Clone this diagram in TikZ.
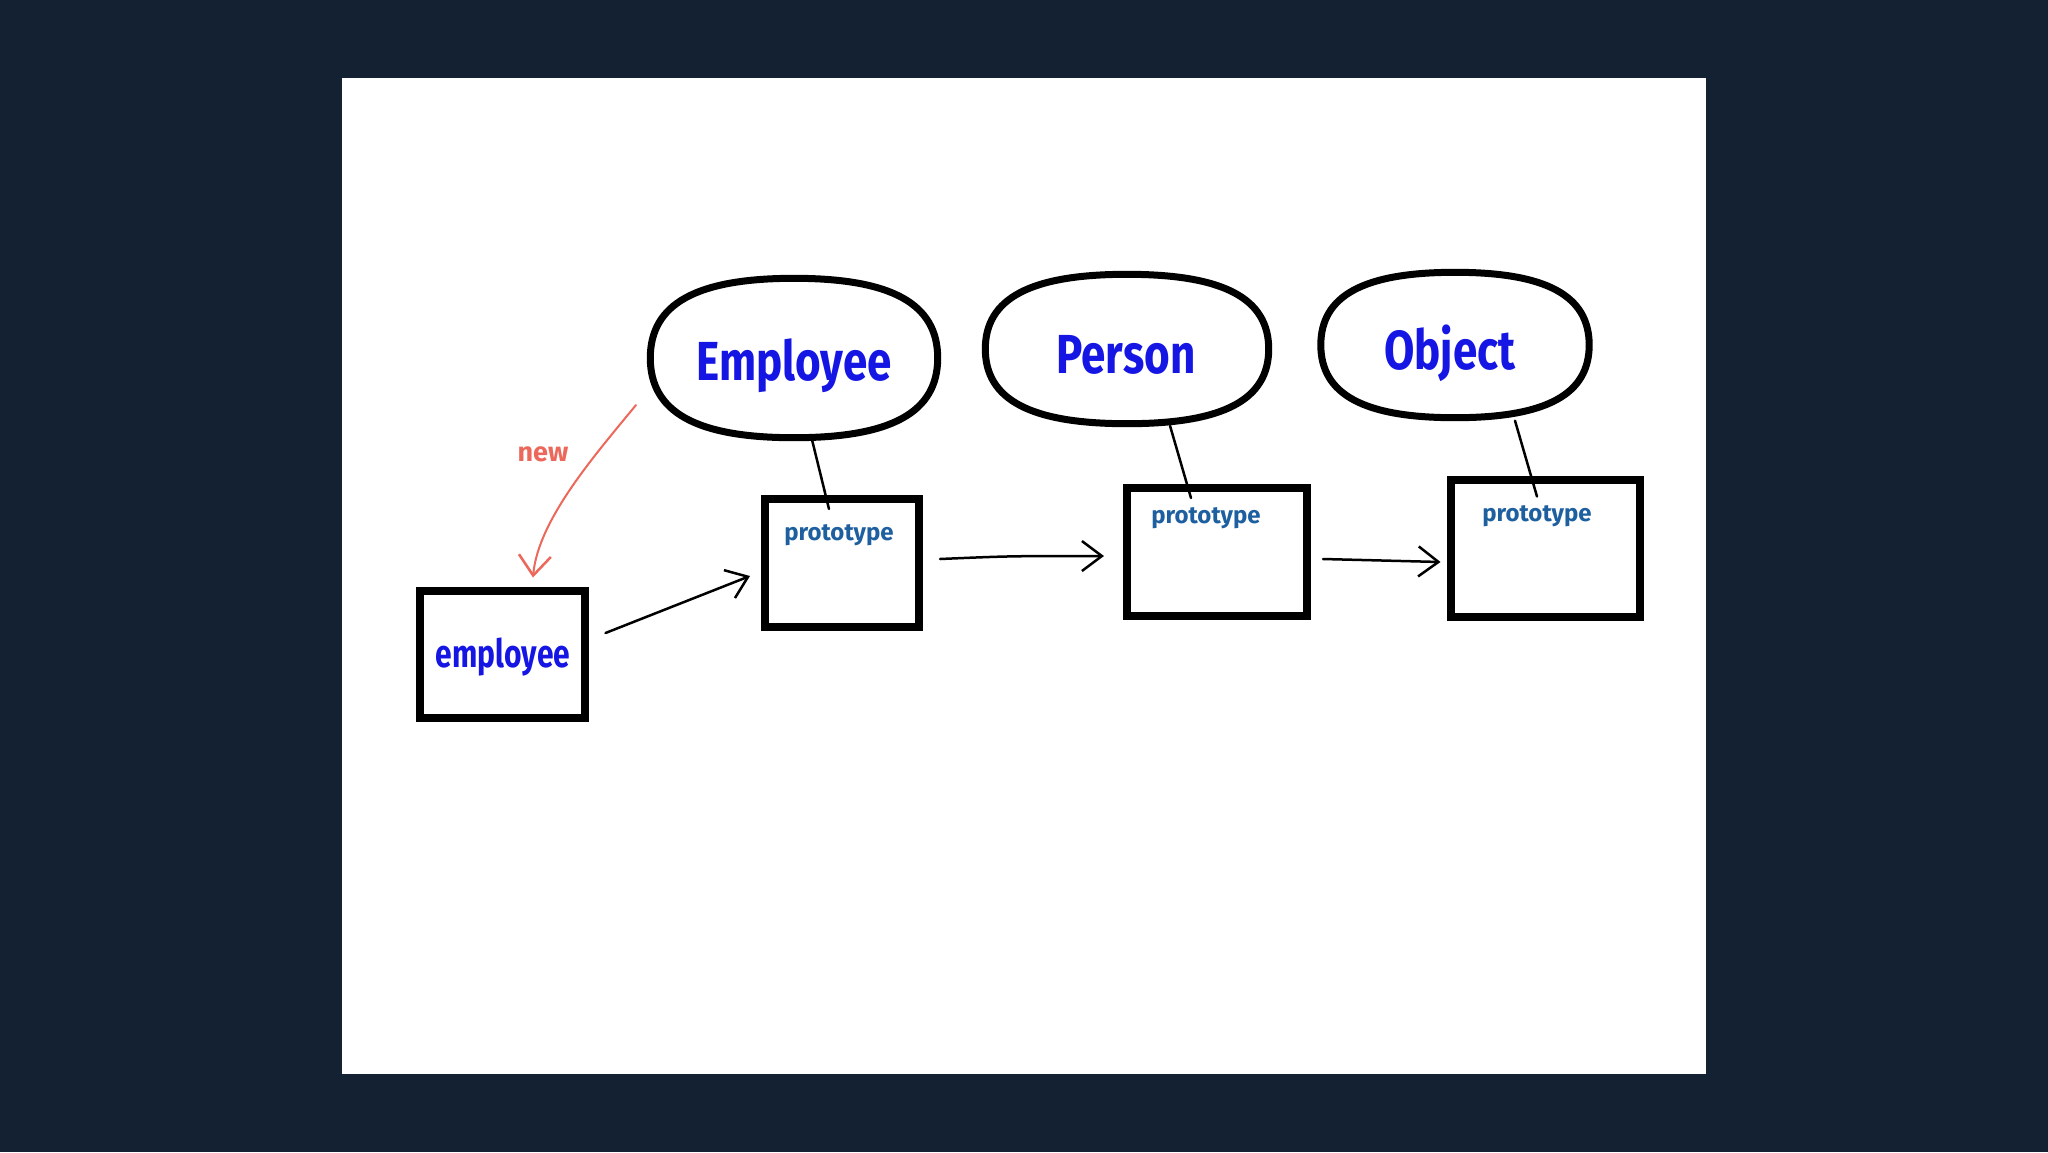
\documentclass[tikz,border=0pt]{standalone}
\usepackage{fontspec}
\setmainfont{Fira Sans}
\usetikzlibrary{arrows.meta,calc}
\definecolor{bgnavy}{RGB}{19,33,50}
\definecolor{inkblue}{RGB}{22,22,228}
\definecolor{protoblue}{RGB}{30,95,160}
\definecolor{newred}{RGB}{236,104,90}
\newcommand\squircleoutline[1]{%
  \draw[clsline] (#1.north)
    .. controls ($(#1.north)!0.68!(#1.north east)$) and ($(#1.east)!0.68!(#1.north east)$) .. (#1.east)
    .. controls ($(#1.east)!0.68!(#1.south east)$) and ($(#1.south)!0.68!(#1.south east)$) .. (#1.south)
    .. controls ($(#1.south)!0.68!(#1.south west)$) and ($(#1.west)!0.68!(#1.south west)$) .. (#1.west)
    .. controls ($(#1.west)!0.68!(#1.north west)$) and ($(#1.north)!0.68!(#1.north west)$) .. (#1.north) -- cycle;}
\begin{document}
\begin{tikzpicture}[x=1pt,y=-1pt,
  cls/.style={draw=none,inner sep=0pt},
  clsline/.style={draw=black,line width=7pt,line join=round},
  objbox/.style={draw=black,line width=8pt,fill=white,inner sep=0pt},
  title/.style={text=inkblue,font=\fontsize{44}{44}\selectfont\bfseries},
  objlabel/.style={text=inkblue,font=\fontsize{30}{30}\selectfont\bfseries},
  protolabel/.style={text=protoblue,font=\fontsize{24}{24}\selectfont\bfseries},
  newlabel/.style={text=newred,font=\fontsize{27}{27}\selectfont\bfseries},
  link/.style={line width=2.5pt,line cap=round},
  arr/.style={line width=2.5pt,line cap=round,-{Straight Barb[length=20pt,width=30pt,line width=2.5pt]}},
  newarr/.style={draw=newred,line width=2pt,line cap=round,-{Straight Barb[length=20pt,width=32pt,line width=2.5pt]}},
]
\fill[bgnavy] (0,0) rectangle (2048,1152);
\fill[white] (342,78) rectangle (1706,1074);
\useasboundingbox (0,0) rectangle (2048,1152);

% class ellipses
\node[cls,minimum width=287pt,minimum height=159pt] (E) at (794,358) {};
\node[cls,minimum width=283pt,minimum height=149pt] (P) at (1127,349) {};
\node[cls,minimum width=268pt,minimum height=145pt] (O) at (1455,345) {};
\squircleoutline{E}
\squircleoutline{P}
\squircleoutline{O}
\node[title] (Et) at (794,366) {\scalebox{1}[1.25]{Employee}};
\node[title] (Pt) at (1126,355) {\scalebox{1}[1.25]{Person}};
\node[title] (Ot) at (1450,353) {\scalebox{1}[1.25]{Object}};

% object boxes
\node[objbox,minimum width=165pt,minimum height=127pt] (EB) at (502,654) {};
\node[objbox,minimum width=154pt,minimum height=128pt] (B1) at (842,563) {};
\node[objbox,minimum width=180pt,minimum height=128pt] (B2) at (1217,552) {};
\node[objbox,minimum width=189pt,minimum height=137pt] (B3) at (1545,548) {};
\node[objlabel] (EBt) at (503,657) {\scalebox{1}[1.3]{employee}};
\node[protolabel] (p1) at (839,535) {prototype};
\node[protolabel] (p2) at (1206,518) {prototype};
\node[protolabel] (p3) at (1537,516) {prototype};

% prototype links
\draw[link] ($(E.south)+(18,2)$) -- ($(B1.north)+(-13,14)$);
\draw[link] ($(P.south)+(43,2)$) -- ($(B2.north)+(-26,14)$);
\draw[link] ($(O.south)+(60,3)$) -- ($(B3.north)+(-8,21)$);

% chain arrows
\draw[arr] ($(EB.east)+(17,-21)$) -- ($(B1.west)+(-11,13)$);
\draw[arr] ($(B1.east)+(17,-4)$) .. controls (1010,556) .. ($(B2.west)+(-19,4)$);
\draw[arr] ($(B2.east)+(12,7)$) -- ($(B3.west)+(-6,14)$);

% new
\coordinate (nw) at (636,405);
\draw[newarr] (nw) .. controls (595,455) and (538,520) .. ($(EB.north)+(31,-9)$);
\node[newlabel] (newt) at (543,454) {new};
\end{tikzpicture}
\end{document}
